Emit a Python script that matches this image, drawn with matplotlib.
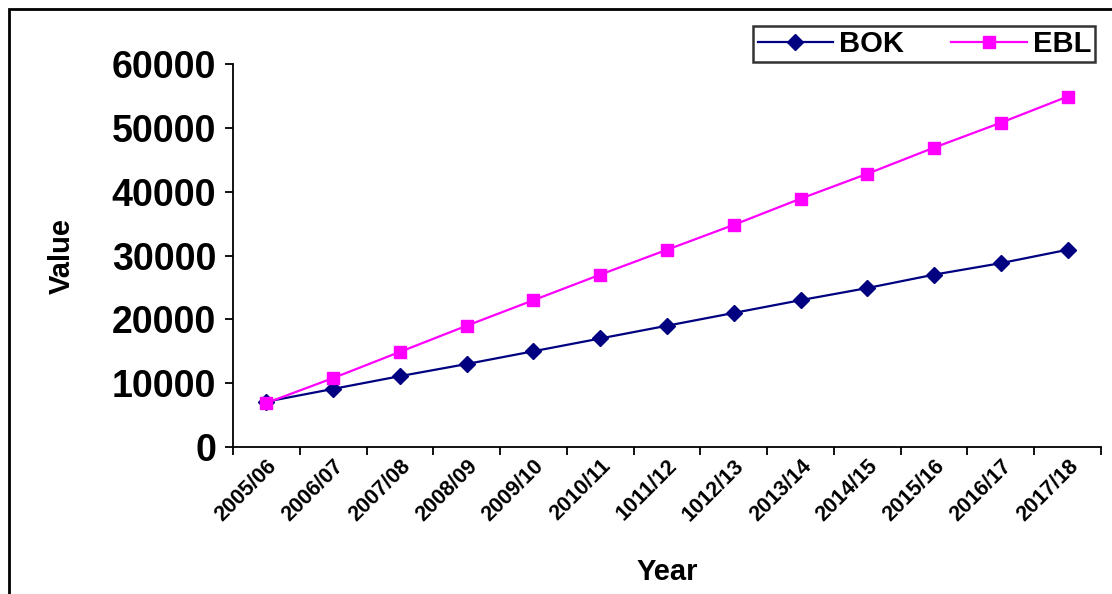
import matplotlib
matplotlib.use("Agg")
import matplotlib.pyplot as plt
from matplotlib.patches import Rectangle

years = ["2005/06","2006/07","2007/08","2008/09","2009/10","2010/11","1011/12",
         "1012/13","2013/14","2014/15","2015/16","2016/17","2017/18"]
bok = [7100,9100,11100,13000,15000,17000,19000,21000,23000,24900,27000,28800,30900]
ebl = [6900,10800,14900,19000,23000,27000,30900,34800,38900,42800,46900,50800,54900]

plt.rcParams['font.family'] = ['Liberation Sans', 'DejaVu Sans']
fig = plt.figure(figsize=(11.12, 5.94), dpi=100)
fig.patches.append(Rectangle((9/1112, -0.1), 1.2, (594-9)/594+0.1, transform=fig.transFigure,
                             fill=False, edgecolor='black', linewidth=2))
ax = fig.add_axes([233/1112, (594-447)/594, (1101-233)/1112, (447-64)/594])
x = [i + 0.5 for i in range(len(years))]
ax.plot(x, bok, color='#000080', marker='D', markersize=8, linewidth=1.6, label='BOK')
ax.plot(x, ebl, color='#FF00FF', marker='s', markersize=9, linewidth=1.6, label='EBL')
ax.set_xlim(0, len(years))
ax.set_ylim(0, 60000)
ax.set_yticks(range(0, 60001, 10000))
ax.set_yticklabels([str(v) for v in range(0, 60001, 10000)], fontsize=27, fontweight='bold')
ax.set_xticks(range(len(years) + 1))
ax.set_xticklabels([])
ax.set_xticks(x, minor=True)
ax.set_xticklabels(years, minor=True, rotation=45, ha='right', rotation_mode='anchor',
                   fontsize=15.5, fontweight='bold')
ax.tick_params(axis='x', which='minor', length=0, pad=6)
ax.tick_params(axis='both', which='major', length=6, width=1.3, direction='out')
ax.tick_params(axis='y', pad=6)
ax.spines['top'].set_visible(False)
ax.spines['right'].set_visible(False)
ax.spines['left'].set_linewidth(1.3)
ax.spines['bottom'].set_linewidth(1.3)
ax.set_ylabel('Value', fontsize=21, fontweight='bold', labelpad=26)
fig.text(667/1112, 1 - 572/594, 'Year', fontsize=21, fontweight='bold', ha='center', va='center')
leg = fig.legend(loc='upper right', bbox_to_anchor=(1110/1112, 1 - 11/594), ncol=2,
                 prop={'size': 21, 'weight': 'bold'}, frameon=True, fancybox=False,
                 edgecolor='black', handlelength=2.6, columnspacing=1.6,
                 borderpad=0.15, handletextpad=0.2)
leg.get_frame().set_linewidth(1.8)
fig.savefig('out.png', dpi=100)
